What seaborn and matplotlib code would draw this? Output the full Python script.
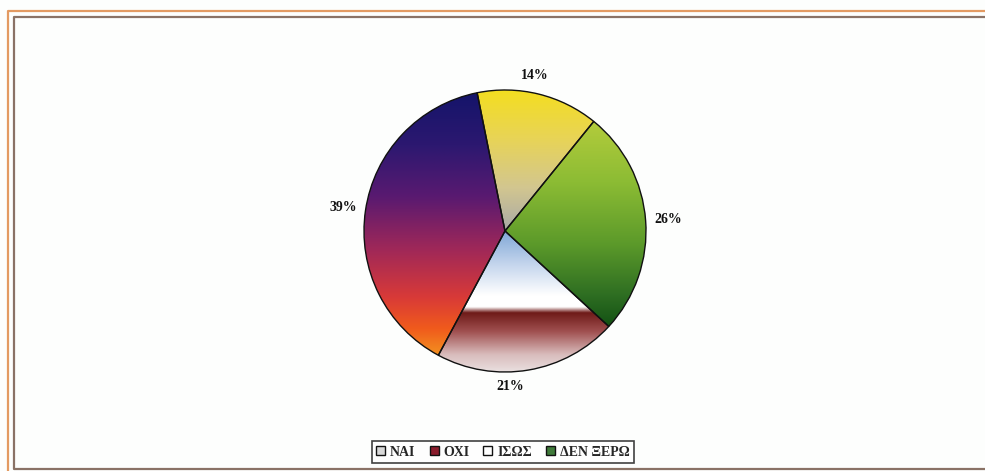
import numpy as np
import matplotlib
matplotlib.use("Agg")
import matplotlib.pyplot as plt
from matplotlib.lines import Line2D
import seaborn as sns

# answers (counter-clockwise from the yellow slice)
categories = ["ΝΑΙ", "ΟΧΙ", "ΙΣΩΣ", "ΔΕΝ ΞΕΡΩ"]
shares = [14, 39, 21, 26]
pct_labels = [f"{v}%" for v in shares]

# flat colours used by the legend keys
key_colors = ["#d8d8d8", "#8a1c2c", "#ffffff", "#3f7a3a"]

# vertical gradients (top -> bottom) painted inside each slice
gradients = [
    ["#f4de1e", "#e8d456", "#d2c690", "#a9a9a6"],
    ["#14146a", "#2c1870", "#5a1a70", "#a02858", "#d83a38", "#f05a1c", "#f39020"],
    ["#7fa6d6", "#c8d8ee", "#ffffff", "#ffffff", "#6e1a18", "#a05050", "#d9bcbc", "#ece6e6"],
    ["#b4cc3c", "#8cbc34", "#5c9a2a", "#2e6e22", "#145214"],
]
stops = [
    [0.0, 0.35, 0.7, 1.0],
    [0.0, 0.2, 0.4, 0.6, 0.78, 0.9, 1.0],
    [0.0, 0.25, 0.45, 0.53, 0.57, 0.7, 0.86, 1.0],
    [0.0, 0.3, 0.6, 0.85, 1.0],
]
# small nudges (pixels) for the percentage labels
label_nudge = [(-9, -3), (0, 0), (-22, 6), (0, 0)]

sns.set_theme(style="white")
plt.rcParams["font.family"] = ["Liberation Serif", "DejaVu Serif"]

fig = plt.figure(figsize=(9.85, 4.71), dpi=100)
fig.patch.set_facecolor("#fdfefd")
ax = fig.add_axes([0, 0, 1, 1])

wedges, texts = ax.pie(
    shares,
    labels=pct_labels,
    colors=key_colors,
    startangle=51,
    counterclock=True,
    center=(505, 240),
    radius=141,
    labeldistance=1.16,
    frame=True,
    wedgeprops=dict(edgecolor="#111111", linewidth=1.0),
    textprops=dict(fontsize=10, fontweight="bold", color="#111111"),
)
for t, (dx, dy) in zip(texts, label_nudge):
    x, y = t.get_position()
    t.set_position((x + dx, y + dy))
    t.set_ha("center")
    t.set_va("center")

leg = fig.legend(
    wedges, categories,
    loc="center", bbox_to_anchor=(503 / 985, 1 - 452 / 471),
    ncol=4, frameon=True, fancybox=False, edgecolor="#111111",
    handlelength=0.65, handleheight=0.65, handletextpad=0.35,
    columnspacing=1.0, borderpad=0.3,
    prop=dict(size=10, weight="bold"),
)
leg.get_frame().set_linewidth(1.2)

# paint the gradients clipped to each slice, then keep only the slice outline
for w, cols, st in zip(wedges, gradients, stops):
    verts = w.get_path().vertices
    x0, x1 = verts[:, 0].min(), verts[:, 0].max()
    y0, y1 = verts[:, 1].min(), verts[:, 1].max()
    cmap = matplotlib.colors.LinearSegmentedColormap.from_list(
        "g", list(zip(st, cols)))
    grad = np.linspace(0, 1, 256).reshape(-1, 1)
    im = ax.imshow(grad, cmap=cmap, extent=[x0, x1, y0, y1], origin="upper",
                   aspect="auto", interpolation="bilinear", zorder=w.get_zorder() - 0.1)
    im.set_clip_path(w)
    w.set_facecolor("none")
ax.set_xlim(0, 985)
ax.set_ylim(0, 471)
ax.axis("off")

# double frame around the chart area
fig.add_artist(Line2D([8 / 985, 8 / 985, 1], [0, 1 - 11 / 471, 1 - 11 / 471],
                      transform=fig.transFigure, color="#e39a62", lw=1.6))
fig.add_artist(Line2D([1, 14 / 985, 14 / 985, 1],
                      [1 - 17 / 471, 1 - 17 / 471, 1 - 469 / 471, 1 - 469 / 471],
                      transform=fig.transFigure, color="#8a7266", lw=1.6))

fig.savefig("out.png", dpi=100, facecolor=fig.get_facecolor())
